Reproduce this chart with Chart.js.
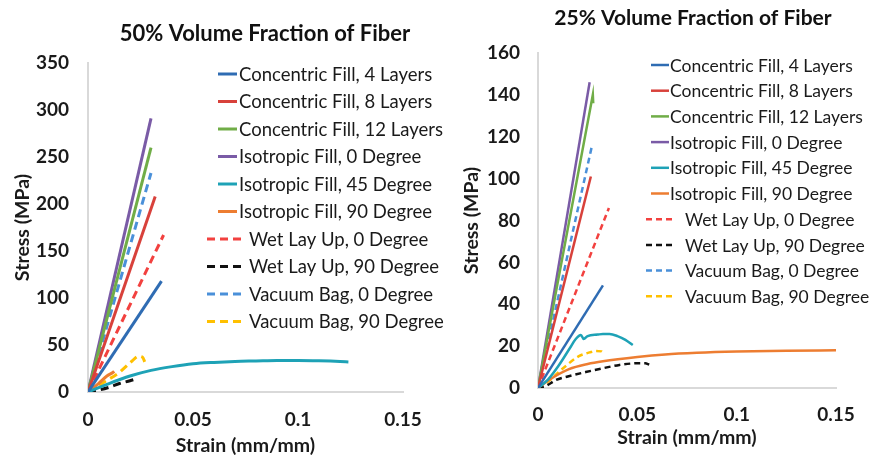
<!DOCTYPE html>
<html lang="en">
<head>
<meta charset="utf-8">
<title>Stress-strain, volume fraction of fiber</title>
<script src="https://cdn.jsdelivr.net/npm/chart.js"></script>
<style>
  body { margin: 0; background: #fff; }
  .panel { position: absolute; top: 0; height: 457px; }
  #left { left: 0; width: 460px; }
  #right { left: 436px; width: 436px; }
</style>
</head>
<body>
<div class="panel" id="left"><canvas id="chart50" width="460" height="457"></canvas></div>
<div class="panel" id="right"><canvas id="chart25" width="436" height="457"></canvas></div>

<script>
  // legend names, same order in both panels
  const seriesNames = [
    'Concentric Fill, 4 Layers', 'Concentric Fill, 8 Layers', 'Concentric Fill, 12 Layers',
    'Isotropic Fill, 0 Degree', 'Isotropic Fill, 45 Degree', 'Isotropic Fill, 90 Degree',
    'Wet Lay Up, 0 Degree', 'Wet Lay Up, 90 Degree', 'Vacuum Bag, 0 Degree', 'Vacuum Bag, 90 Degree'
  ];
  const seriesColors = ['#2f6cb3', '#d8413b', '#70ad47', '#7a5ba6', '#1ea2b6', '#ed7d31',
                        '#f2413f', '#111111', '#4a90d9', '#ffc000'];
  const dashedSeries = [false, false, false, false, false, false, true, true, true, true];
  // only these are smoothed, the rest are straight segments
  const curvedSeries = [false, false, false, false, true, true, false, true, false, true];

  const xTickLabels = ['0', '0.05', '0.1', '0.15'];

  // 50% volume fraction, [strain, stress]
  const c4_50 = [[0, 0], [0.035, 118]];
  const c8_50 = [[0, 0], [0.032, 208]];
  const c12_50 = [[0, 0], [0.030, 260]];
  const iso0_50 = [[0, 0], [0.030, 291]];
  const iso45_50 = [[0, 0], [0.01, 9], [0.02, 17], [0.03, 23], [0.04, 27], [0.05, 30], [0.06, 31.5],
                    [0.07, 32.5], [0.08, 33], [0.09, 33.5], [0.1, 33.5], [0.11, 33.2], [0.12, 32.5], [0.124, 32]];
  const iso90_50 = [[0, 0], [0.005, 9], [0.009, 17], [0.012, 21], [0.0125, 22]];
  const wet0_50 = [[0, 0], [0.036, 167]];
  const wet90_50 = [[0, 0], [0.005, 2], [0.01, 5], [0.015, 9], [0.02, 12], [0.023, 14]];
  const vac0_50 = [[0, 0], [0.030, 233]];
  const vac90_50 = [[0, 0], [0.008, 11], [0.015, 21], [0.021, 33], [0.024, 38], [0.026, 37], [0.027, 32]];

  // 25% volume fraction, [strain, stress]
  const c4_25 = [[0, 0], [0.0327, 49]];
  const c8_25 = [[0, 0], [0.0266, 101]];
  const c12_25 = [[0, 0], [0.0276, 140], [0.0278, 136]];
  const iso0_25 = [[0, 0], [0.026, 146]];
  const iso45_25 = [[0, 0], [0.005, 4], [0.0106, 11], [0.016, 19], [0.019, 23.4], [0.0216, 25.3], [0.023, 23.4],
                    [0.025, 24.8], [0.03, 25.5], [0.0327, 25.8], [0.036, 25.8], [0.04, 24.8], [0.044, 23], [0.0477, 20.5]];
  const iso90_25 = [[0, 0], [0.005, 3.5], [0.0156, 9], [0.025, 11.5], [0.0327, 12.8], [0.05, 14.8], [0.064, 16],
                    [0.08, 16.8], [0.1, 17.4], [0.125, 17.8], [0.15, 18]];
  const wet0_25 = [[0, 0], [0.0357, 86]];
  const wet90_25 = [[0, 0], [0.004, 1], [0.009, 3.8], [0.015, 5.5], [0.024, 7.6], [0.032, 9.3], [0.041, 11],
                    [0.05, 11.8], [0.054, 11.8], [0.056, 11.2]];
  const vac0_25 = [[0, 0], [0.027, 115]];
  const vac90_25 = [[0, 0], [0.005, 3], [0.0116, 8.6], [0.0206, 15.2], [0.026, 17], [0.029, 17.7], [0.032, 17.5], [0.0327, 17]];

  const series50 = [c4_50, c8_50, c12_50, iso0_50, iso45_50, iso90_50, wet0_50, wet90_50, vac0_50, vac90_50];
  const series25 = [c4_25, c8_25, c12_25, iso0_25, iso45_25, iso90_25, wet0_25, wet90_25, vac0_25, vac90_25];

  const FONT = 'Lato, "Open Sans", sans-serif';

  // title + in-plot legend, drawn at fixed spots like the excel original
  const overlay = {
    id: 'overlay',
    afterDraw(chart, args, o) {
      const ctx = chart.ctx;
      ctx.save();
      ctx.fillStyle = '#111';
      ctx.font = 'bold ' + o.titleSize + 'px ' + FONT;
      ctx.textAlign = 'center';
      ctx.textBaseline = 'middle';
      ctx.fillText(o.title, o.titleX, o.titleY);

      ctx.font = o.legendSize + 'px ' + FONT;
      ctx.textAlign = 'left';
      chart.data.datasets.forEach((ds, i) => {
        const y = o.legendY + i * o.legendDy;
        const dashed = ds.borderDash && ds.borderDash.length > 0;
        const seg = dashed ? o.dashSeg : o.solidSeg;
        ctx.strokeStyle = ds.borderColor;
        ctx.lineWidth = ds.borderWidth;
        ctx.setLineDash(dashed ? ds.borderDash : []);
        ctx.beginPath();
        ctx.moveTo(seg[0], y);
        ctx.lineTo(seg[1], y);
        ctx.stroke();
        ctx.fillStyle = '#1a1a1a';
        ctx.fillText(ds.label, seg[2], y + 1);
      });
      ctx.restore();
    }
  };

  function makeChart(id, series, cfg) {
    const datasets = series.map((pts, i) => ({
      label: seriesNames[i],
      data: pts.map(p => ({ x: p[0], y: p[1] })),
      showLine: true,
      borderColor: seriesColors[i],
      backgroundColor: seriesColors[i],
      borderWidth: cfg.lineWidth,
      borderDash: dashedSeries[i] ? cfg.dash : [],
      borderCapStyle: 'butt',
      pointRadius: 0,
      tension: curvedSeries[i] ? 0.4 : 0,
      cubicInterpolationMode: curvedSeries[i] ? 'monotone' : 'default'
    }));

    return new Chart(document.getElementById(id), {
      type: 'scatter',
      data: { datasets: datasets },
      plugins: [overlay],
      options: {
        responsive: false,
        animation: false,
        layout: { padding: cfg.padding },
        plugins: {
          legend: { display: false },
          tooltip: { enabled: false },
          overlay: cfg.overlay
        },
        scales: {
          x: {
            type: 'linear',
            min: 0, max: 0.15,
            grid: { display: false, drawTicks: false },
            border: { display: true, color: '#d9d9d9', width: 2 },
            ticks: {
              stepSize: 0.05,
              padding: cfg.xTickPad,
              color: '#1a1a1a',
              font: { family: FONT, size: cfg.tickSize, weight: 'bold' },
              callback: (v, i) => xTickLabels[i]
            },
            title: {
              display: true, text: 'Strain (mm/mm)', color: '#1a1a1a',
              padding: { top: 0, bottom: 0 },
              font: { family: FONT, size: cfg.axisTitleSize, weight: 'bold' }
            },
            afterFit: s => { s.height = cfg.xHeight; }
          },
          y: {
            min: 0, max: cfg.yMax,
            grid: { display: false, drawTicks: false },
            border: { display: true, color: '#d9d9d9', width: 2 },
            ticks: {
              stepSize: cfg.yStep,
              padding: cfg.yTickPad,
              color: '#1a1a1a',
              font: { family: FONT, size: cfg.tickSize, weight: 'bold' }
            },
            title: {
              display: true, text: 'Stress (MPa)', color: '#1a1a1a',
              padding: { top: 2, bottom: 0 },
              font: { family: FONT, size: cfg.axisTitleSize, weight: 'bold' }
            },
            afterFit: s => { s.width = cfg.yWidth; }
          }
        }
      }
    });
  }

  makeChart('chart50', series50, {
    yMax: 350, yStep: 50,
    lineWidth: 3, dash: [8, 5],
    padding: { top: 63, right: 57, left: 9, bottom: 0 },
    yWidth: 79, xHeight: 65,
    xTickPad: 16, yTickPad: 19,
    tickSize: 19, axisTitleSize: 19.5,
    overlay: {
      title: '50% Volume Fraction of Fiber', titleX: 265, titleY: 34, titleSize: 22,
      legendY: 74, legendDy: 27.5, legendSize: 18.5,
      solidSeg: [218, 237, 239], dashSeg: [207, 242, 249]
    }
  });

  makeChart('chart25', series25, {
    yMax: 160, yStep: 20,
    lineWidth: 2.5, dash: [6, 4],
    padding: { top: 53, right: 36, left: 22, bottom: 8 },
    yWidth: 80, xHeight: 61,
    xTickPad: 15, yTickPad: 18,
    tickSize: 19, axisTitleSize: 19.5,
    overlay: {
      title: '25% Volume Fraction of Fiber', titleX: 257, titleY: 18, titleSize: 21,
      legendY: 65, legendDy: 25.7, legendSize: 17.5,
      solidSeg: [215, 233, 234], dashSeg: [210, 240, 249]
    }
  });
</script>
</body>
</html>
